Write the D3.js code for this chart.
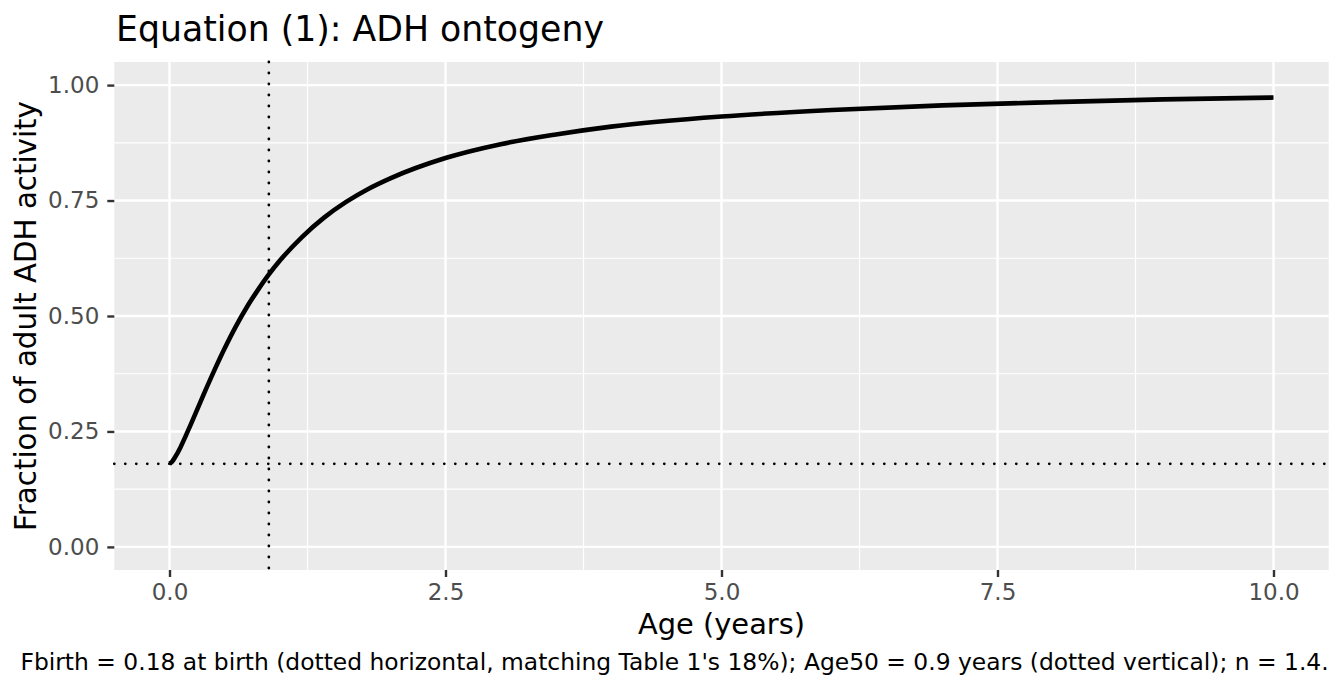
<!DOCTYPE html>
<html>
<head>
<meta charset="utf-8">
<script src="https://cdn.jsdelivr.net/npm/d3@7"></script>
<style>
  html, body { margin: 0; padding: 0; background: #fff; }
  svg { display: block; font-family: "DejaVu Sans", sans-serif; }
</style>
</head>
<body>
<svg id="chart" width="1344" height="691"></svg>
<script>
// ---- data ----
const ages = [0, 0.025, 0.05, 0.1, 0.15, 0.2, 0.3, 0.4, 0.5, 0.6, 0.7, 0.8, 0.9, 1.0, 1.2, 1.4, 1.6, 1.8, 2.0, 2.5, 3.0, 3.5, 4.0, 5.0, 6.0, 7.0, 8.0, 9.0, 10.0];
const fraction = [0.180, 0.185, 0.194, 0.216, 0.242, 0.269, 0.325, 0.379, 0.430, 0.477, 0.519, 0.556, 0.590, 0.620, 0.671, 0.713, 0.747, 0.775, 0.798, 0.842, 0.872, 0.893, 0.910, 0.932, 0.946, 0.956, 0.963, 0.969, 0.973];
const fbirth = 0.18;
const age50 = 0.9;
const xTicks = [0, 2.5, 5, 7.5, 10];
const xTickLabels = ["0.0", "2.5", "5.0", "7.5", "10.0"];
const xMinor = [1.25, 3.75, 6.25, 8.75];
const yTicks = [0, 0.25, 0.5, 0.75, 1];
const yTickLabels = ["0.00", "0.25", "0.50", "0.75", "1.00"];
const yMinor = [0.125, 0.375, 0.625, 0.875];
const titleText = "Equation (1): ADH ontogeny";
const xTitle = "Age (years)";
const yTitle = "Fraction of adult ADH activity";
const captionText = "Fbirth = 0.18 at birth (dotted horizontal, matching Table 1's 18%); Age50 = 0.9 years (dotted vertical); n = 1.4.";

// ---- layout ----
const svg = d3.select("#chart");
const P = { left: 114.3, right: 1328.7, top: 62, bottom: 570 };

const x = d3.scaleLinear().domain([-0.5, 10.5]).range([P.left, P.right]);
const y = d3.scaleLinear().domain([-0.05, 1.05]).range([P.bottom, P.top]);

// panel background
svg.append("rect")
  .attr("x", P.left).attr("y", P.top)
  .attr("width", P.right - P.left).attr("height", P.bottom - P.top)
  .attr("fill", "#EBEBEB");

const grid = svg.append("g");
// minor grid
grid.selectAll(".xmin").data(xMinor).join("line")
  .attr("x1", d => x(d)).attr("x2", d => x(d))
  .attr("y1", P.top).attr("y2", P.bottom)
  .attr("stroke", "#fff").attr("stroke-width", 1.2);
grid.selectAll(".ymin").data(yMinor).join("line")
  .attr("y1", d => y(d)).attr("y2", d => y(d))
  .attr("x1", P.left).attr("x2", P.right)
  .attr("stroke", "#fff").attr("stroke-width", 1.2);
// major grid
grid.selectAll(".xmaj").data(xTicks).join("line")
  .attr("x1", d => x(d)).attr("x2", d => x(d))
  .attr("y1", P.top).attr("y2", P.bottom)
  .attr("stroke", "#fff").attr("stroke-width", 2.4);
grid.selectAll(".ymaj").data(yTicks).join("line")
  .attr("y1", d => y(d)).attr("y2", d => y(d))
  .attr("x1", P.left).attr("x2", P.right)
  .attr("stroke", "#fff").attr("stroke-width", 2.4);

// reference lines (dotted)
svg.append("line")
  .attr("x1", P.left).attr("x2", P.right)
  .attr("y1", y(fbirth)).attr("y2", y(fbirth))
  .attr("stroke", "#000").attr("stroke-width", 2.8)
  .attr("stroke-dasharray", "0 11").attr("stroke-linecap", "round");
svg.append("line")
  .attr("x1", x(age50)).attr("x2", x(age50))
  .attr("y1", P.top).attr("y2", P.bottom)
  .attr("stroke", "#000").attr("stroke-width", 2.8)
  .attr("stroke-dasharray", "0 11").attr("stroke-linecap", "round");

// curve
const line = d3.line()
  .x((d, i) => x(ages[i]))
  .y(d => y(d))
  .curve(d3.curveMonotoneX);
svg.append("path")
  .datum(fraction)
  .attr("d", line)
  .attr("fill", "none")
  .attr("stroke", "#000")
  .attr("stroke-width", 4.6);

// axes
const xAxis = d3.axisBottom(x).tickValues(xTicks)
  .tickFormat((d, i) => xTickLabels[i]).tickSize(7).tickPadding(7);
const gx = svg.append("g").attr("transform", `translate(0,${P.bottom})`).call(xAxis);
gx.select(".domain").remove();
gx.selectAll(".tick line").attr("stroke", "#333").attr("stroke-width", 2.4);
gx.selectAll(".tick text").attr("fill", "#4D4D4D")
  .attr("font-size", 23).attr("font-family", "DejaVu Sans");

const yAxis = d3.axisLeft(y).tickValues(yTicks)
  .tickFormat((d, i) => yTickLabels[i]).tickSize(7).tickPadding(8);
const gy = svg.append("g").attr("transform", `translate(${P.left},0)`).call(yAxis);
gy.select(".domain").remove();
gy.selectAll(".tick line").attr("stroke", "#333").attr("stroke-width", 2.4);
gy.selectAll(".tick text").attr("fill", "#4D4D4D")
  .attr("font-size", 23).attr("font-family", "DejaVu Sans");

// titles
svg.append("text")
  .attr("x", 116).attr("y", 41)
  .attr("font-size", 34.7).attr("fill", "#000")
  .text(titleText);

svg.append("text")
  .attr("x", (P.left + P.right) / 2).attr("y", 634)
  .attr("text-anchor", "middle")
  .attr("font-size", 28.9).attr("fill", "#000")
  .text(xTitle);

svg.append("text")
  .attr("transform", `translate(36,${(P.top + P.bottom) / 2}) rotate(-90)`)
  .attr("text-anchor", "middle")
  .attr("font-size", 29.3).attr("fill", "#000")
  .text(yTitle);

svg.append("text")
  .attr("x", P.right).attr("y", 670)
  .attr("text-anchor", "end")
  .attr("font-size", 23.4).attr("fill", "#000")
  .text(captionText);
</script>
</body>
</html>
